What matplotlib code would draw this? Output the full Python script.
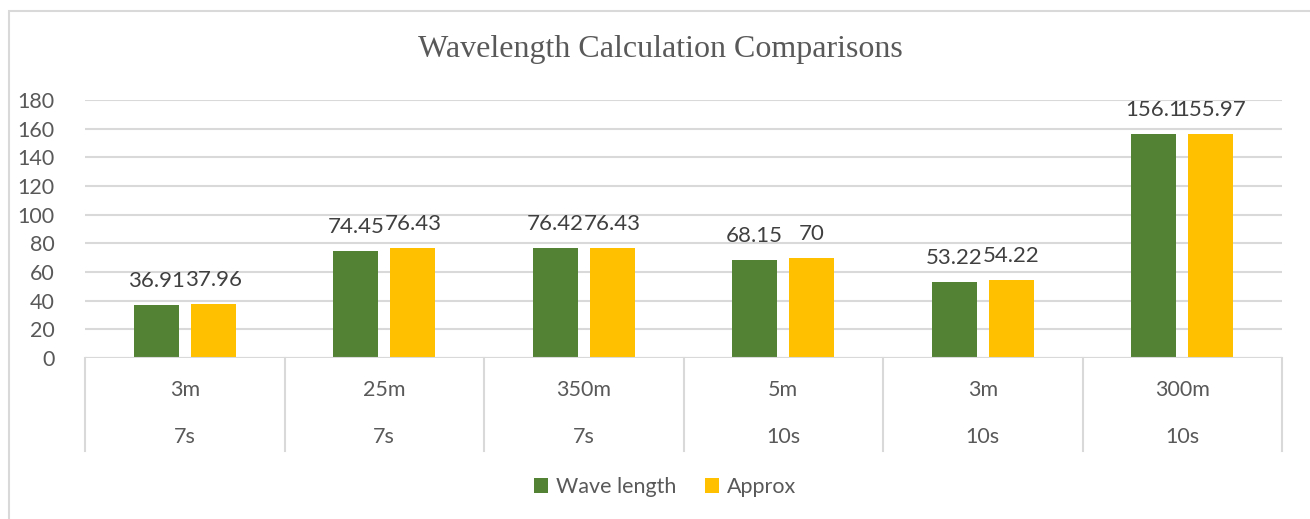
import matplotlib
matplotlib.use("Agg")
import matplotlib.pyplot as plt
from matplotlib.patches import Rectangle
from matplotlib.lines import Line2D
import numpy as np

depths = ["3m", "25m", "350m", "5m", "3m", "300m"]
periods = ["7s", "7s", "7s", "10s", "10s", "10s"]
wave_length = [36.91, 74.45, 76.42, 68.15, 53.22, 156.1]
approx = [37.96, 76.43, 76.43, 70, 54.22, 155.97]
wave_labels = ["36.91", "74.45", "76.42", "68.15", "53.22", "156.1"]
approx_labels = ["37.96", "76.43", "76.43", "70", "54.22", "155.97"]
yticks = [0, 20, 40, 60, 80, 100, 120, 140, 160, 180]

GREEN = "#548235"
GOLD = "#FFC000"
TXT = "#595959"
LBL = "#404040"
GRID = "#D9D9D9"
FONT = ["Lato", "DejaVu Sans"]
FS = 15.5

W, H = 1310, 519
fig = plt.figure(figsize=(W / 100, H / 100), dpi=100)
fig.patch.set_facecolor("white")
fig.patches.append(Rectangle((9 / W, -0.1), 1.2, 1 - 11 / H + 0.1, transform=fig.transFigure,
                             fill=False, edgecolor=GRID, lw=1.5))

ax = fig.add_axes([85 / W, 1 - 358 / H, (1282 - 85) / W, (358 - 100) / H])
n = len(depths)
x = np.arange(n)
bw = 0.226
off = 0.143
ax.bar(x - off, wave_length, bw, color=GREEN, zorder=3, label="Wave length")
ax.bar(x + off, approx, bw, color=GOLD, zorder=3, label="Approx")
for i in range(n):
    ax.annotate(wave_labels[i], (x[i] - off, wave_length[i]), xytext=(0, 13),
                textcoords="offset points", ha="center", va="baseline",
                fontsize=16, color=LBL, family=FONT)
    ax.annotate(approx_labels[i], (x[i] + off, approx[i]), xytext=(0, 13),
                textcoords="offset points", ha="center", va="baseline",
                fontsize=16, color=LBL, family=FONT)

ax.set_xlim(-0.5, n - 0.5)
ax.set_ylim(0, 180)
ax.set_yticks(yticks)
ax.set_yticklabels([str(v) for v in yticks], family=FONT, fontsize=FS, color=TXT)
ax.tick_params(axis="y", length=0, pad=22)
ax.set_xticks([])
for s in ax.spines.values():
    s.set_visible(False)
ax.grid(axis="y", color=GRID, lw=1.5, zorder=0)
ax.axhline(0, color=GRID, lw=1.5, zorder=4)

# multi-level category axis
trans = ax.get_xaxis_transform()
ax_h = 358 - 100
def yfrac(py):
    return -(py - 358) / ax_h
for b in np.arange(-0.5, n, 1.0):
    ax.add_line(Line2D([b, b], [0, yfrac(451)], transform=trans, color=GRID, lw=1.5, clip_on=False))
for i in range(n):
    ax.text(x[i], yfrac(390), depths[i], transform=trans, ha="center", va="center",
            fontsize=FS, color=TXT, family=FONT)
    ax.text(x[i], yfrac(437), periods[i], transform=trans, ha="center", va="center",
            fontsize=FS, color=TXT, family=FONT)

fig.text(660 / W, 1 - 50 / H, "Wavelength Calculation Comparisons", ha="center", va="center",
         fontsize=23, color=TXT, family=["Liberation Serif", "DejaVu Serif"])

leg = fig.legend(loc="center", bbox_to_anchor=(665 / W, 1 - 487 / H), ncol=2, frameon=False,
                 prop={"family": FONT, "size": FS}, handlelength=0.65, handleheight=0.65,
                 handletextpad=0.4, columnspacing=1.3)
for t in leg.get_texts():
    t.set_color(TXT)

fig.savefig("out.png", dpi=100)
